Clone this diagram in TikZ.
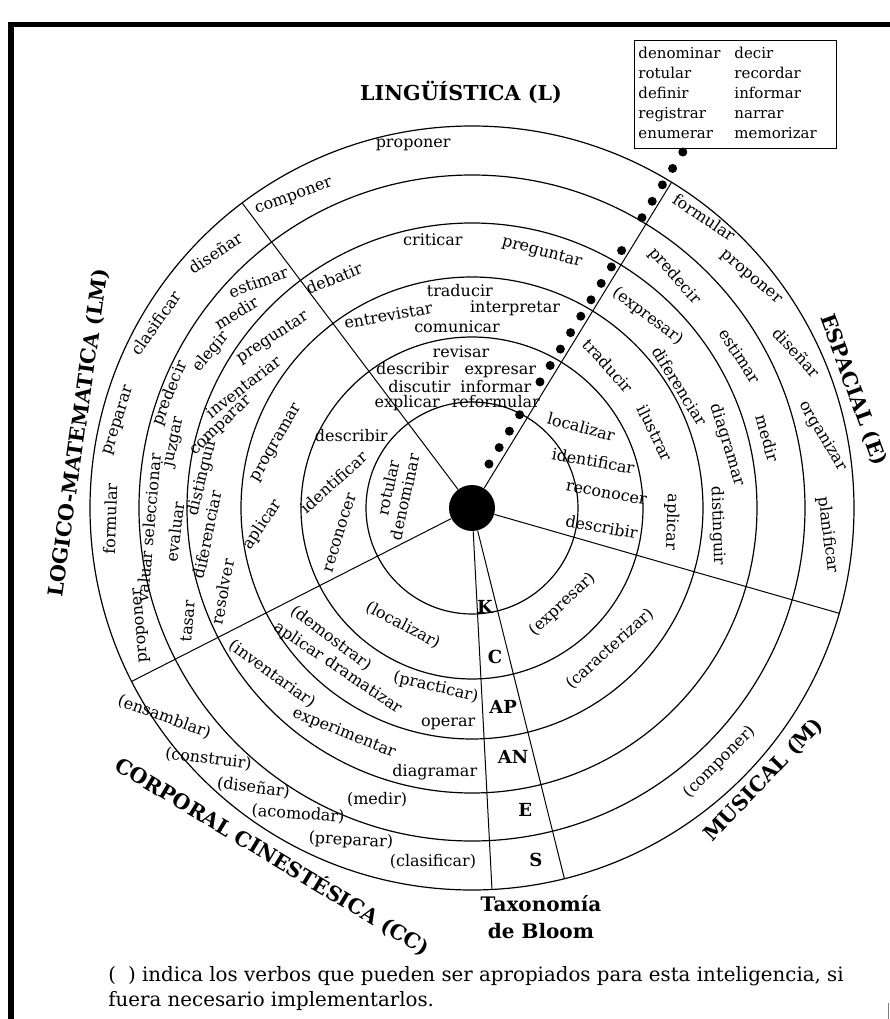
\documentclass[tikz,border=0pt]{standalone}
\usepackage{fontspec}
\setmainfont{DejaVu Serif}

\begin{document}
\begin{tikzpicture}[
  x=0.5pt,y=0.5pt,
  verb/.style={font=\fontsize{8}{9.6}\selectfont,inner sep=0pt},
  area/.style={font=\fontsize{10.3}{12}\selectfont\bfseries,inner sep=0pt},
  nivel/.style={font=\fontsize{9}{11}\selectfont\bfseries,inner sep=0pt},
  ring/.style={line width=0.6pt},
  radio/.style={line width=0.5pt}
]
  \useasboundingbox (-472,-511) rectangle (418,508);
  \fill (-464,481) rectangle (418,486);
  \fill (-464,486) rectangle (-458,-511);
  \draw[line width=0.4pt,black!50] (416,-495) -- (416,-511);

  \node[circle,fill,minimum size=23pt,inner sep=0pt] (hub) at (0,0) {};
  \foreach \r in {106,171,231,285,333,382}
    \draw[ring] (hub.center) circle (\r);
  \foreach \a [count=\i] in {58.5,127,207,-87,-76,-16} {
    \coordinate (borde\i) at (\a:382);
    \draw[radio] (hub) -- (borde\i);
  }
  \foreach \i in {0,...,3,5,6,...,13,15,16,...,19}
    \fill ({17+10.2*\i},{44+16.42*\i}) circle (4.5);

  \foreach \a/\r/\g/\w [count=\i] in {99.2/368/0/proponer, 119.8/358/20/componer,
      121/268/22/debatir, 98.3/271/0/criticar, 74.7/265/-15/preguntar,
      93.2/218/0/traducir, 113.5/210/10/entrevistar, 77.8/204/0/interpretar,
      94.7/182/0/comunicar, 94/157/0/revisar,
      96.6/139/0/{describir\hspace{8pt}expresar},
      95.7/122/0/{discutir\hspace{5pt}informar},
      98/106/0/{explicar\hspace{6pt}reformular}}
    \node[verb,rotate=\g] (l\i) at (\a:\r) {\w};

  \foreach \a/\r/\g/\w [count=\i] in {36.6/136/-15/localizar, 21.2/130/-10/identificar,
      6/135/-10/reconocer, -8.3/131/-10/describir,
      46.2/197/-48/traducir, 22.3/198/-64/ilustrar, -4/200/-92/aplicar,
      47.5/260/-37/(expresar), 30.4/241/-58/diferenciar, 13.9/263/-73/diagramar,
      -4.2/246/-88/distinguir,
      48.8/308/-49/predecir, 29.6/308/-57/estimar, 13.3/304/-75/medir,
      51.4/372/-34/formular, 39.6/361/-40/proponer, 25.6/360/-47/diseñar,
      11.6/358/-59/organizar, -4.3/357/-83/planificar}
    \node[verb,rotate=\g] (e\i) at (\a:\r) {\w};

  \foreach \a/\r/\g/\w [count=\i] in {-46.8/132/43/(expresar),
      -45.6/197/42/(caracterizar), -45.7/355/45/(componer)}
    \node[verb,rotate=\g] (m\i) at (\a:\r) {\w};

  \foreach \a/\r/\g/\w [count=\i] in {239.5/136/-28/(localizar),
      222.7/192/-37/(demostrar), 230/209/-34/{aplicar dramatizar},
      258.6/183/-13/(practicar), 263.7/217/0/operar,
      219.7/260/-36/(inventariar), 240.4/259/-22/experimentar, 262/267/0/diagramar,
      252/307/0/(medir),
      214.2/372/-20/(ensamblar), 223.6/364/-7/(construir), 232/355/-7/(diseñar),
      240.4/352/-4/(acomodar), 250/354/-3/(preparar), 263.7/356/0/(clasificar)}
    \node[verb,rotate=\g] (cc\i) at (\a:\r) {\w};

  \foreach \a/\r/\g/\w [count=\i] in {166.6/86/78/rotular, 170.7/68/78/denominar,
      148.9/141/0/describir, 169.4/141/42/identificar, 190.7/134/73/reconocer,
      161.5/205/60/programar, 184.6/210/56/aplicar,
      139.5/262/33/preguntar, 152.1/259/38/inventariar, 162/263/44/comparar,
      173.4/271/76/distinguir, 185.8/266/78/diferenciar, 198.6/263/80/resolver,
      133.4/311/20/estimar, 140.4/306/32/medir, 149.1/304/50/elegir,
      159.2/323/68/predecir, 167.5/305/78/juzgar,
      183.5/324/85/{valuar seleccionar}, 184.6/298/83/evaluar, 201.7/306/85/tasar,
      135.2/362/34/diseñar, 149.7/366/55/clasificar, 166.1/363/72/preparar,
      181.7/362/88/formular, 199.6/351/95/proponer}
    \node[verb,rotate=\g] (lm\i) at (\a:\r) {\w};

  \foreach \a/\r/\n in {-82.5/100/K, -81.2/151/C, -81.1/201/AP, -80.6/252/AN,
      -80/307/E, -79.7/358/S}
    \node[nivel] (bloom\n) at (\a:\r) {\n};

  \node[area] (ling) at (-11,416) {LINGÜÍSTICA (L)};
  \node[area,rotate=-70] (esp) at (17.2:399) {ESPACIAL (E)};
  \node[area,rotate=46] (mus) at (-43:399) {MUSICAL (M)};
  \node[area,rotate=-31] (corp) at (240.2:401) {CORPORAL CINESTÉSICA (CC)};
  \node[area,rotate=82] (logm) at (169.2:400) {LOGICO-MATEMATICA (LM)};
  \node[font=\fontsize{10}{13.5}\selectfont\bfseries,align=center,inner sep=0pt]
    (taxo) at (69,-409) {Taxonomía\\de Bloom};

  \node[draw,line width=0.5pt,anchor=north west,inner sep=2pt,
    font=\fontsize{7.5}{10}\selectfont] (lista) at (162,468)
    {\begin{tabular}{@{}l@{\hspace{7pt}}l@{\hspace{8pt}}}
      denominar & decir\\
      rotular & recordar\\
      definir & informar\\
      registrar & narrar\\
      enumerar & memorizar
    \end{tabular}};

  \node[font=\fontsize{9.9}{12.5}\selectfont,anchor=north west,align=left,inner sep=0pt]
    (nota) at (-364,-458)
    {(\hspace{6pt}) indica los verbos que pueden ser apropiados para esta inteligencia, si\\
     fuera necesario implementarlos.};
\end{tikzpicture}
\end{document}
